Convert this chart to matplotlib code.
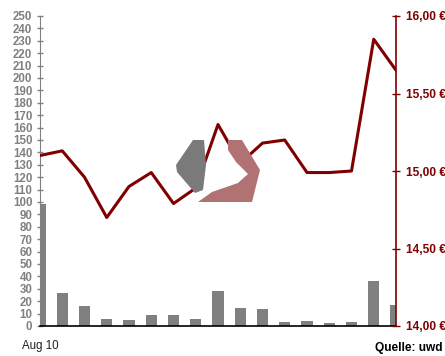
import numpy as np
import matplotlib
matplotlib.use("Agg")
import matplotlib.pyplot as plt
from matplotlib.patches import Polygon

# Volumen (linke Achse) und Kurs in Euro (rechte Achse)
volumen = [98, 27, 16, 6, 5, 8.5, 8.5, 6, 28, 14.5, 13.5, 3.5, 4.3, 2.5, 3.2, 36.5, 17]
kurs = [15.10, 15.13, 14.96, 14.70, 14.90, 14.99, 14.79, 14.89, 15.30, 15.05,
        15.18, 15.20, 14.99, 14.99, 15.00, 15.85, 15.65]
x_labels = {0: "Aug 10"}
links_ticks = list(range(0, 251, 10))
rechts_ticks = [14.0, 14.5, 15.0, 15.5, 16.0]

W, H = 445, 356
fig = plt.figure(figsize=(W / 100, H / 100), dpi=100)
fig.patch.set_facecolor("white")
plt.rcParams["font.family"] = ["Liberation Sans", "DejaVu Sans"]

dunkelrot = "#800000"
grau = "#808080"

ax = fig.add_axes([40 / W, 1 - 326 / H, (396 - 40) / W, (326 - 16) / H])
ax.set_facecolor("none")

# Logo im Hintergrund (Wasserzeichen), in Pixelkoordinaten
def px(pts):
    return [(x / W, 1 - y / H) for x, y in pts]

logo_grau = Polygon(px([(193, 140), (204, 140), (206, 165), (203, 190), (195, 193),
                        (177, 172), (176, 165)]), closed=True, transform=fig.transFigure,
                    facecolor="#7a7a7a", edgecolor="none", zorder=0)
logo_rot = Polygon(px([(228, 140), (242, 140), (260, 170), (252, 202), (198, 202),
                       (212, 192), (238, 183), (248, 174), (236, 162), (228, 150)]),
                   closed=True, transform=fig.transFigure,
                   facecolor="#b07272", edgecolor="none", zorder=0)
fig.patches.extend([logo_grau, logo_rot])

idx = np.arange(len(volumen))
ax.bar(idx, volumen, width=0.5, color=grau, zorder=2)
ax.set_xlim(0, len(volumen) - 1)
ax.set_ylim(0, 250)
ax.set_yticks(links_ticks)
ax.set_yticklabels([str(t) for t in links_ticks], color=grau, fontweight="bold", fontsize=8.3)
ax.tick_params(axis="y", direction="inout", length=5, width=1, color=grau, pad=3)
ax.set_xticks(list(x_labels.keys()))
ax.set_xticklabels(list(x_labels.values()), fontsize=8.3, color="#202020")
ax.tick_params(axis="x", length=0, pad=10)
for s in ["top", "right"]:
    ax.spines[s].set_visible(False)
ax.spines["left"].set_color(grau)
ax.spines["bottom"].set_color("black")
ax.spines["bottom"].set_linewidth(1.2)

ax2 = ax.twinx()
ax2.plot(idx, kurs, color=dunkelrot, linewidth=2.2, zorder=3)
ax2.set_ylim(14, 16)
ax2.set_yticks(rechts_ticks)
ax2.set_yticklabels([f"{t:.2f}".replace(".", ",") + " €" for t in rechts_ticks],
                    color=dunkelrot, fontweight="bold", fontsize=8.6)
ax2.tick_params(axis="y", direction="inout", length=6, width=1, color=dunkelrot, pad=4)
for s in ["top", "left", "bottom"]:
    ax2.spines[s].set_visible(False)
ax2.spines["right"].set_color(dunkelrot)
ax2.spines["right"].set_linewidth(1.2)

fig.text(375 / W, 1 - 354 / H, "Quelle: uwd", fontsize=8.6, fontweight="bold",
         color="black", ha="left", va="bottom")

fig.savefig("out.png", dpi=100)
